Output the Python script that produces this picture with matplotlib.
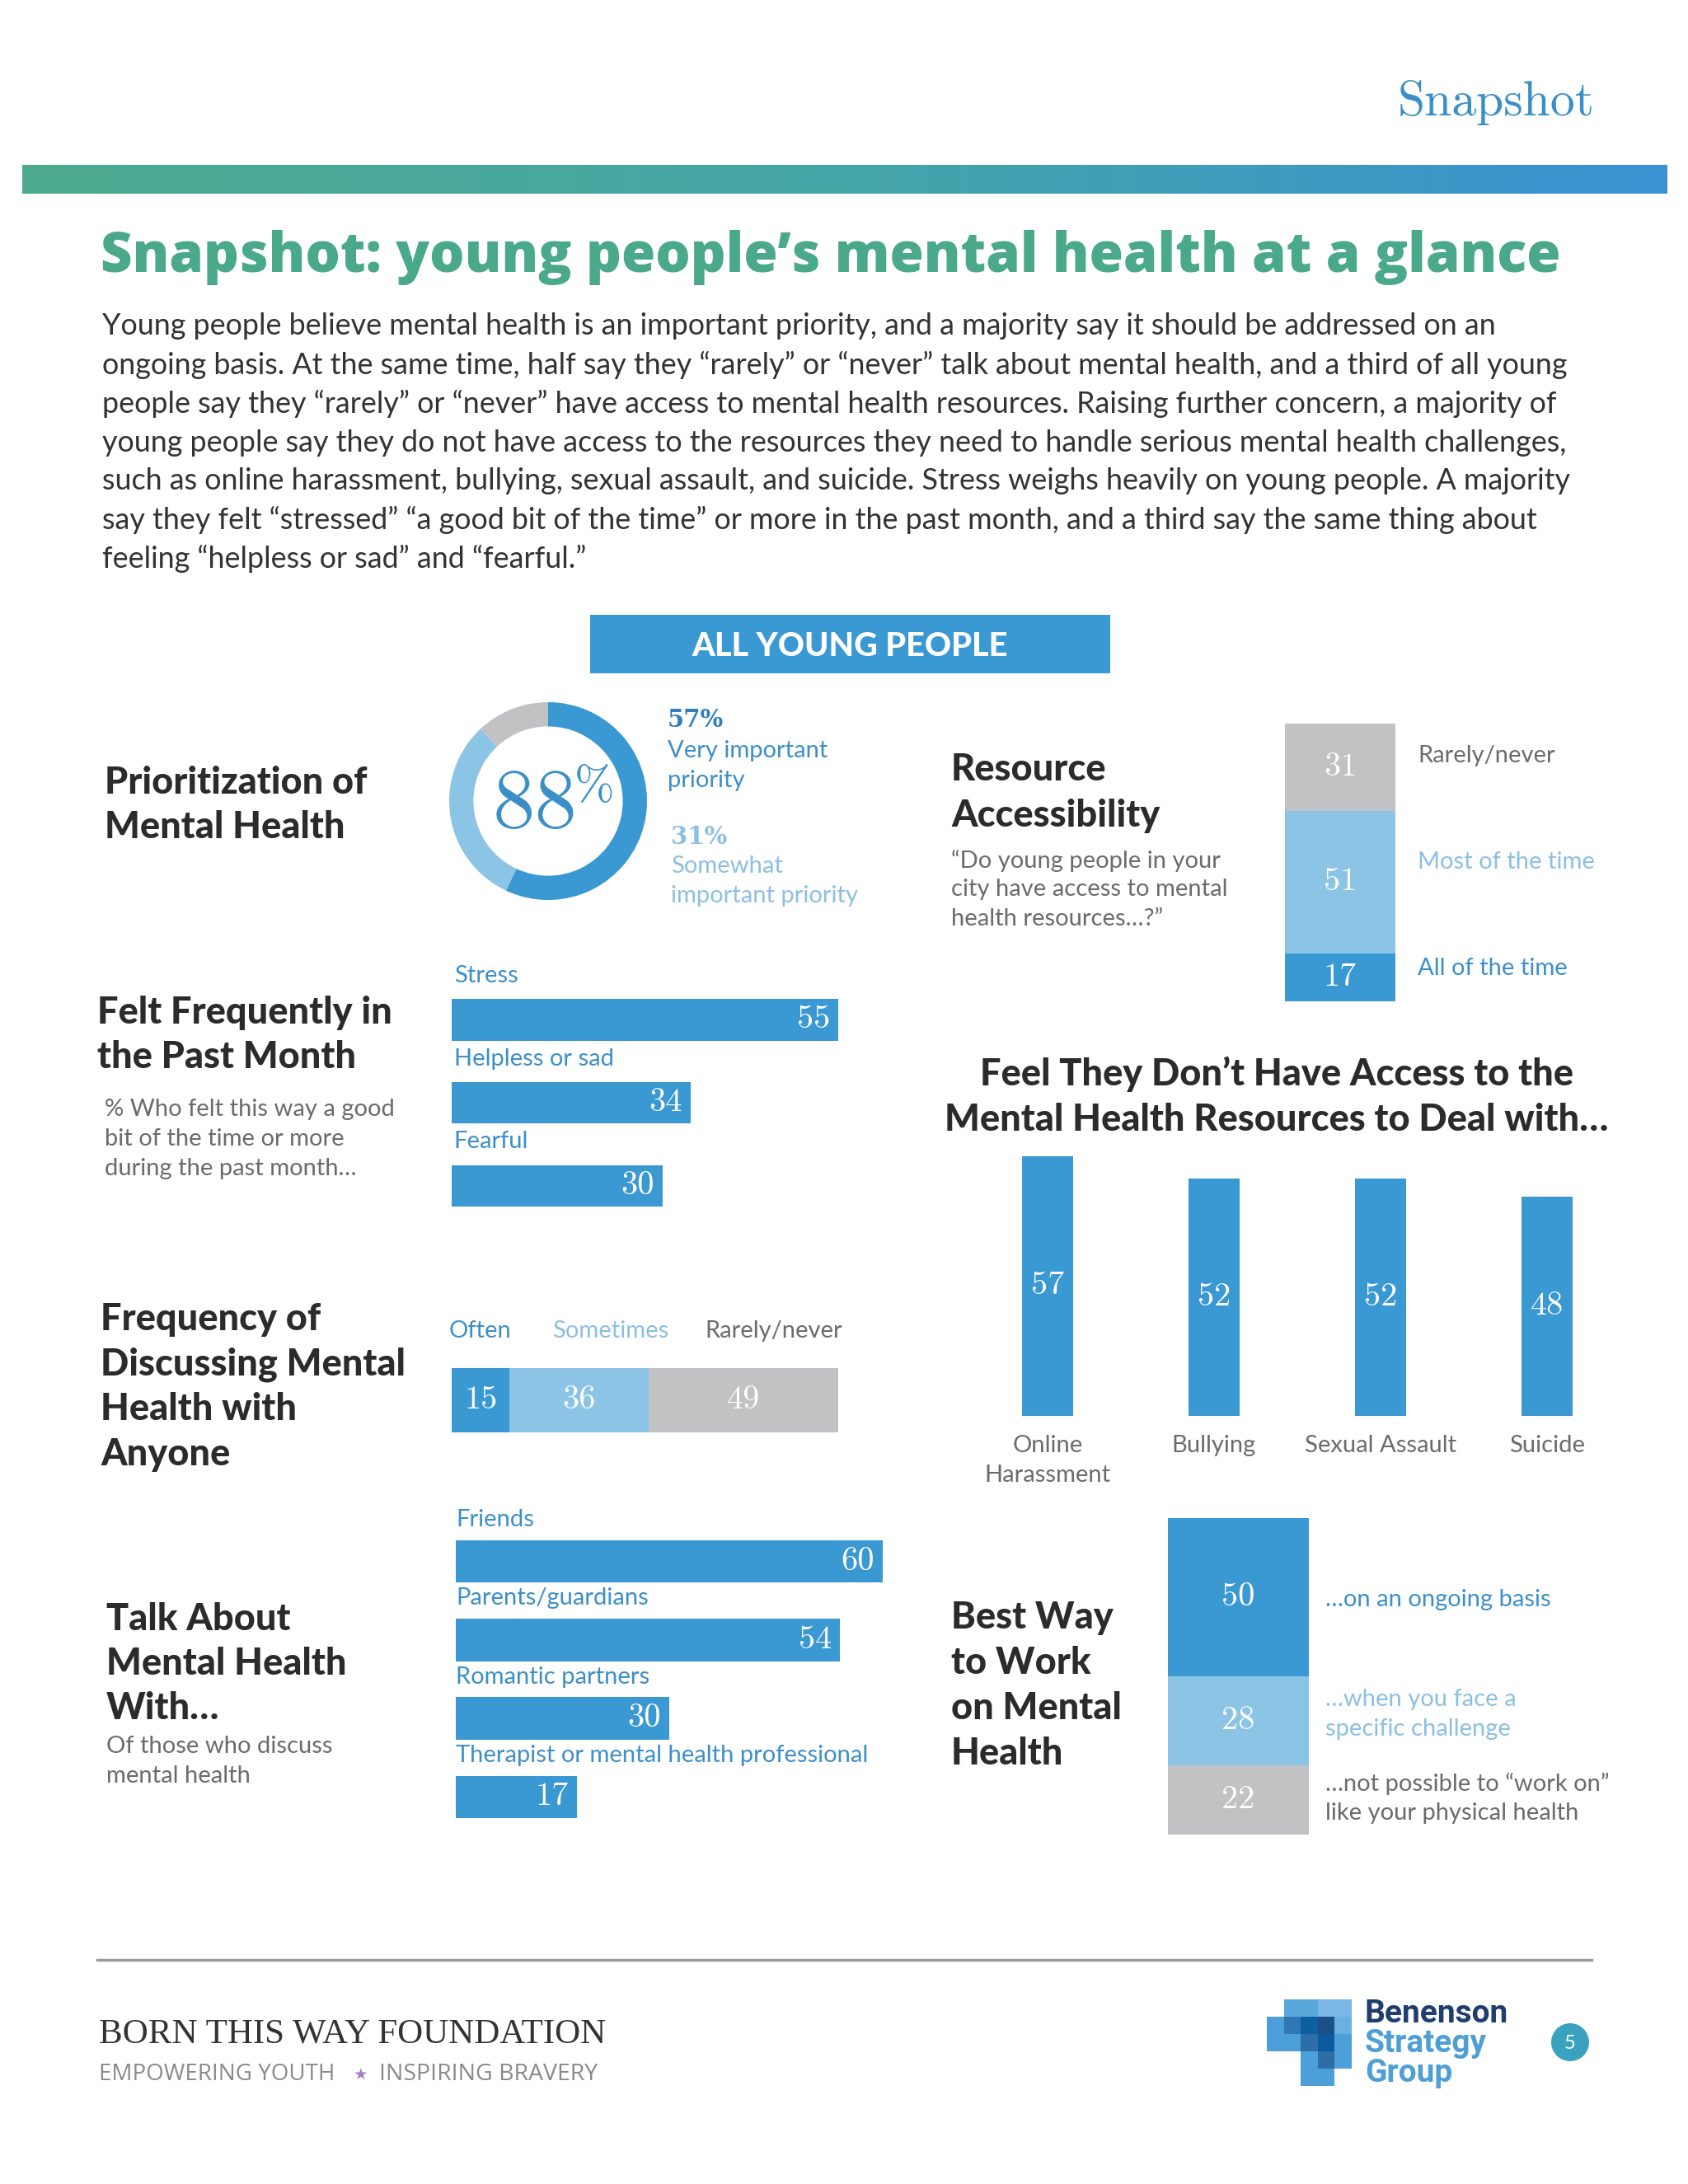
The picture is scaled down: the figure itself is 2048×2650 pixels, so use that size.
import numpy as np
import matplotlib.pyplot as plt
from matplotlib.patches import Rectangle, Circle
from matplotlib.colors import LinearSegmentedColormap

# ---- data ----
priority_labels = ["Very important priority", "Somewhat important priority", "Not a priority"]
priority_values = [57, 31, 12]
priority_total = 88

felt_labels = ["Stress", "Helpless or sad", "Fearful"]
felt_values = [55, 34, 30]

freq_labels = ["Often", "Sometimes", "Rarely/never"]
freq_values = [15, 36, 49]

talk_labels = ["Friends", "Parents/guardians", "Romantic partners",
               "Therapist or mental health professional"]
talk_values = [60, 54, 30, 17]

access_labels = ["All of the time", "Most of the time", "Rarely/never"]
access_values = [17, 51, 31]

lack_labels = ["Online\nHarassment", "Bullying", "Sexual Assault", "Suicide"]
lack_values = [57, 52, 52, 48]

best_labels = ["\u2026not possible to \u201cwork on\u201d\nlike your physical health",
               "\u2026when you face a\nspecific challenge",
               "\u2026on an ongoing basis"]
best_values = [22, 28, 50]

# ---- style ----
W, H = 2048, 2650
BLUE = "#3a98d3"
LIGHT = "#8cc4e6"
GREY = "#c2c1c4"
TXT_BLUE = "#3d8fc9"
TXT_LIGHT = "#8cc0e2"
TXT_GREY = "#6b6b6b"
DARK = "#2b2b2b"
SANS = "Lato"
SERIF = "cmr10"
NUM = 29

fig = plt.figure(figsize=(W / 100, H / 100), dpi=100)
bg = fig.add_axes([0, 0, 1, 1])
bg.set_xlim(0, W)
bg.set_ylim(H, 0)
bg.axis("off")


def px_axes(x0, y0, x1, y1):
    ax = fig.add_axes([x0 / W, 1 - y1 / H, (x1 - x0) / W, (y1 - y0) / H])
    ax.axis("off")
    return ax


def lines(x, y0, step, txt, **kw):
    for i, t in enumerate(txt):
        bg.text(x, y0 + i * step, t, va="center", **kw)


# ---- header ----
bg.text(1935, 124, "Snapshot", ha="right", va="center", fontsize=43,
        family=SERIF, color="#3a8fc8")
grad = LinearSegmentedColormap.from_list("g", ["#4eaa8e", "#45a6a8", "#3a92d3"])
bg.imshow(np.linspace(0, 1, 400)[None, :], cmap=grad, aspect="auto",
          extent=[27, 2023, 235, 200])
bg.set_xlim(0, W)
bg.set_ylim(H, 0)

bg.text(122, 313, "Snapshot: young people\u2019s mental health at a glance",
        va="center", fontsize=48.2, family="Open Sans", weight="heavy", color="#4aa98a")

para = [
    "Young people believe mental health is an important priority, and a majority say it should be addressed on an",
    "ongoing basis. At the same time, half say they \u201crarely\u201d or \u201cnever\u201d talk about mental health, and a third of all young",
    "people say they \u201crarely\u201d or \u201cnever\u201d have access to mental health resources. Raising further concern, a majority of",
    "young people say they do not have access to the resources they need to handle serious mental health challenges,",
    "such as online harassment, bullying, sexual assault, and suicide. Stress weighs heavily on young people. A majority",
    "say they felt \u201cstressed\u201d \u201ca good bit of the time\u201d or more in the past month, and a third say the same thing about",
    "feeling \u201chelpless or sad\u201d and \u201cfearful.\u201d",
]
lines(124, 396, 47, para, fontsize=25.8, family=SANS, color="#333333")

bg.add_patch(Rectangle((716, 746), 631, 71, color=BLUE, lw=0))
bg.text(1031, 784, "ALL YOUNG PEOPLE", ha="center", va="center", fontsize=28.5,
        family=SANS, weight="black", color="white")

tkw = dict(fontsize=32.5, family=SANS, weight="black", color=DARK)
skw = dict(fontsize=21, family=SANS, color=TXT_GREY)

# ---- prioritization donut ----
lines(127, 950, 54, ["Prioritization of", "Mental Health"], **tkw)
ax = px_axes(545, 852, 785, 1092)
ax.pie(priority_values, colors=[BLUE, LIGHT, GREY], startangle=90, counterclock=False,
       radius=1, wedgeprops=dict(width=0.245, linewidth=0))
ax.set_xlim(-1, 1)
ax.set_ylim(-1, 1)
ax.text(-0.13, -0.05, f"{priority_total}", ha="center", va="center", fontsize=74,
        family=SERIF, color="#3a8fc8")
ax.text(0.47, 0.13, "%", ha="center", va="center", fontsize=42, family=SERIF,
        color="#3a8fc8")
bg.text(810, 874, f"{priority_values[0]}%", va="center", fontsize=21, family="DejaVu Serif",
        weight="bold", color="#2f7fc0")
lines(810, 911, 36, ["Very important", "priority"], fontsize=21, family=SANS, color=TXT_BLUE)
bg.text(814, 1015, f"{priority_values[1]}%", va="center", fontsize=21, family="DejaVu Serif",
        weight="bold", color=TXT_LIGHT)
lines(814, 1051, 36, ["Somewhat", "important priority"], fontsize=21, family=SANS, color=TXT_LIGHT)

# ---- felt frequently ----
lines(118, 1229, 54, ["Felt Frequently in", "the Past Month"], **tkw)
lines(127, 1346, 36, ["% Who felt this way a good", "bit of the time or more",
                      "during the past month\u2026"], **skw)
ax = px_axes(548, 1187, 1060, 1489)
ypos = np.arange(len(felt_values))
ax.barh(ypos, felt_values, height=0.5, color=BLUE, lw=0)
ax.set_xlim(0, 60)
ax.set_ylim(len(felt_values) - 0.5, -0.5)
for i, (lab, v) in enumerate(zip(felt_labels, felt_values)):
    ax.text(0.3, i - 0.53, lab, va="center", fontsize=21, family=SANS, color=TXT_BLUE)
    ax.text(v - 1.2, i, str(v), ha="right", va="center", fontsize=NUM, family=SERIF, color="white")

# ---- frequency stacked ----
lines(122, 1601, 54.5, ["Frequency of", "Discussing Mental", "Health with", "Anyone"], **tkw)
ax = px_axes(548, 1660, 1017, 1738)
left = 0
for v, c in zip(freq_values, [BLUE, LIGHT, GREY]):
    ax.barh(0, v, left=left, height=1, color=c, lw=0)
    ax.text(left + v / 2, 0, str(v), ha="center", va="center", fontsize=NUM,
            family=SERIF, color="white")
    left += v
ax.set_xlim(0, 100)
ax.set_ylim(-0.5, 0.5)
for x, lab, c in zip([545, 670, 855], freq_labels, [TXT_BLUE, TXT_LIGHT, TXT_GREY]):
    bg.text(x, 1615, lab, va="center", fontsize=21, family=SANS, color=c)

# ---- talk about ----
lines(129, 1965, 54, ["Talk About", "Mental Health", "With\u2026"], **tkw)
lines(129, 2119, 36, ["Of those who discuss", "mental health"], **skw)
ax = px_axes(553, 1847, 1071, 2228)
ypos = np.arange(len(talk_values))
ax.barh(ypos, talk_values, height=0.54, color=BLUE, lw=0)
ax.set_xlim(0, 60)
ax.set_ylim(len(talk_values) - 0.5, -0.5)
for i, (lab, v) in enumerate(zip(talk_labels, talk_values)):
    ax.text(0, i - 0.53, lab, va="center", fontsize=21, family=SANS, color=TXT_BLUE, clip_on=False)
    ax.text(v - 1.2, i, str(v), ha="right", va="center", fontsize=NUM, family=SERIF, color="white")

# ---- resource accessibility ----
lines(1154, 934, 56, ["Resource", "Accessibility"], **tkw)
lines(1154, 1044, 35.5, ["\u201cDo young people in your", "city have access to mental",
                         "health resources\u2026?\u201d"], **skw)
ax = px_axes(1559, 878, 1693, 1215)
bottom = 0
for v, c in zip(access_values, [BLUE, LIGHT, GREY]):
    ax.bar(0, v, bottom=bottom, width=1, color=c, lw=0)
    ax.text(0, bottom + v / 2, str(v), ha="center", va="center", fontsize=NUM,
            family=SERIF, color="white")
    bottom += v
ax.set_xlim(-0.5, 0.5)
ax.set_ylim(0, sum(access_values))
for y, lab, c in zip([1175, 1046, 917], access_labels, [TXT_BLUE, TXT_LIGHT, TXT_GREY]):
    bg.text(1720, y, lab, va="center", fontsize=21, family=SANS, color=c)

# ---- feel they don't have access ----
lines(1549, 1303, 56, ["Feel They Don\u2019t Have Access to the",
                       "Mental Health Resources to Deal with\u2026"], ha="center", **tkw)
ax = px_axes(1170, 1386, 1978, 1718)
xpos = np.arange(len(lack_values))
ax.bar(xpos, lack_values, width=0.31, color=BLUE, lw=0)
ax.set_xlim(-0.5, len(lack_values) - 0.5)
ax.set_ylim(0, 60)
for i, (lab, v) in enumerate(zip(lack_labels, lack_values)):
    ax.text(i, v / 2, str(v), ha="center", va="center", fontsize=NUM, family=SERIF, color="white")
    ax.text(i, -4.2, lab, ha="center", va="top", fontsize=21, family=SANS, color=TXT_GREY,
            linespacing=1.45, clip_on=False)

# ---- best way ----
lines(1154, 1963, 55, ["Best Way", "to Work", "on Mental", "Health"], **tkw)
ax = px_axes(1417, 1842, 1588, 2226)
bottom = 0
for v, c in zip(best_values, [GREY, LIGHT, BLUE]):
    ax.bar(0, v, bottom=bottom, width=1, color=c, lw=0)
    ax.text(0, bottom + v / 2, str(v), ha="center", va="center", fontsize=NUM,
            family=SERIF, color="white")
    bottom += v
ax.set_xlim(-0.5, 0.5)
ax.set_ylim(0, sum(best_values))
for y, lab, c in zip([2182, 2080, 1941], best_labels, [TXT_GREY, TXT_LIGHT, TXT_BLUE]):
    bg.text(1608, y, lab, va="center", fontsize=21, family=SANS, color=c, linespacing=1.45)

# ---- footer ----
bg.plot([118, 1931], [2378, 2378], color="#9a9a9a", lw=2.5)
bg.text(120, 2468, "BORN THIS WAY FOUNDATION", va="center", fontsize=31,
        family="Liberation Serif", color="#333333")
bg.text(120, 2517, "EMPOWERING YOUTH", va="center", fontsize=20, family="Open Sans",
        color="#8a8a8a")
bg.text(437, 2517, "\u2605", va="center", ha="center", fontsize=14, family="DejaVu Sans",
        color="#a57cc2")
bg.text(460, 2517, "INSPIRING BRAVERY", va="center", fontsize=20.5, family="Open Sans",
        color="#8a8a8a")

# Benenson logo tiles (col, row, colour)
cells = [(1, 0, "#5aa7dc"), (2, 0, "#5aa7dc"), (3, 0, "#7ab6e6"), (4, 0, "#7ab6e6"),
         (0, 1, "#4c9fd8"), (1, 1, "#2f78b5"), (2, 1, "#0d5fa0"), (3, 1, "#1a4f88"), (4, 1, "#6ab0e2"),
         (0, 2, "#4c9fd8"), (1, 2, "#4c9fd8"), (2, 2, "#2e6ea8"), (3, 2, "#0b5a9d"), (4, 2, "#4c9fd8"),
         (2, 3, "#4c9fd8"), (3, 3, "#2e6ea8"), (4, 3, "#4c9fd8"),
         (2, 4, "#4c9fd8"), (3, 4, "#4c9fd8")]
for c, r, col in cells:
    bg.add_patch(Rectangle((1537 + c * 20.5, 2426 + r * 21), 20.7, 21.2, color=col, lw=0))
bg.text(1656, 2443, "Benenson", va="center", fontsize=28, family="Roboto", weight="bold",
        color="#1f3d6e")
bg.text(1656, 2480, "Strategy", va="center", fontsize=28, family="Roboto", weight="bold",
        color="#4e9fd6")
bg.text(1656, 2516, "Group", va="center", fontsize=28, family="Roboto", weight="bold",
        color="#4e9fd6")
bg.add_patch(Circle((1905, 2478), 23, color="#3aa2be", lw=0))
bg.text(1905, 2479, "5", ha="center", va="center", fontsize=17, family=SANS, color="white")

fig.savefig("out.png", dpi=100, facecolor="white")
